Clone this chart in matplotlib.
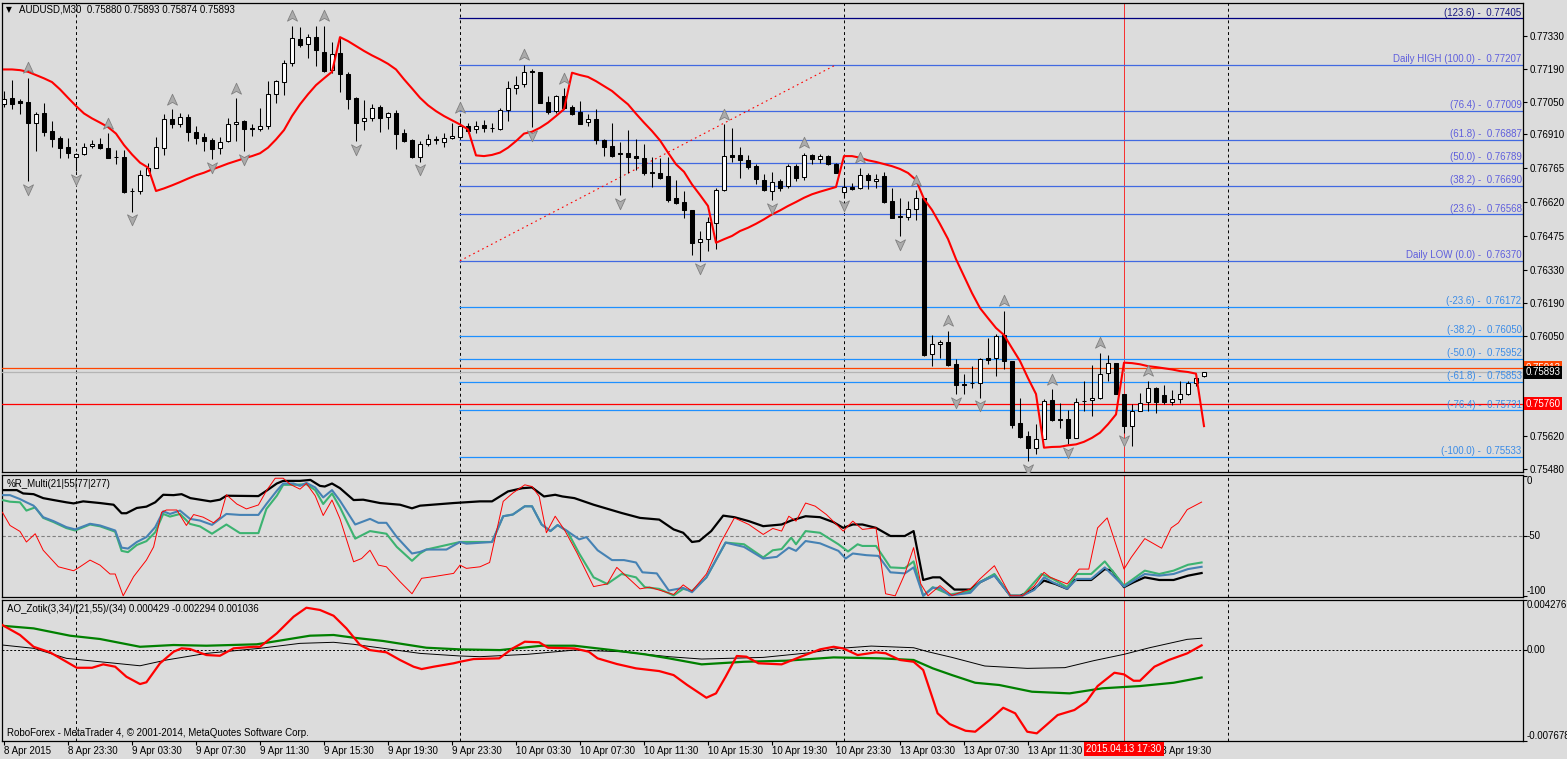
import numpy as np
import matplotlib
matplotlib.use("Agg")
import matplotlib.pyplot as plt
from matplotlib.path import Path
from matplotlib import transforms

plt.rcParams['font.family'] = ['Liberation Sans', 'DejaVu Sans']

# ---------------- data (AUDUSD M30, bar 0 = 9 Apr 00:00) ----------------
bars = list(range(-9, 142))

opens = [0.77038, 0.77063, 0.77052, 0.77048, 0.76960, 0.76999, 0.76924, 0.76896, 0.76856,
         0.76813, 0.76825, 0.76860, 0.76870, 0.76853, 0.76813, 0.76813, 0.76668, 0.76668, 0.76736,
         0.76767, 0.76850, 0.76977, 0.76952, 0.76984, 0.76920, 0.76900, 0.76886, 0.76850, 0.76881,
         0.76952, 0.76967, 0.76937, 0.76931, 0.76945, 0.77081, 0.77132, 0.77213, 0.77315, 0.77294,
         0.77327, 0.77261, 0.77183, 0.77256, 0.77166, 0.77066, 0.76967, 0.76978, 0.77026, 0.76984,
         0.77001, 0.76914, 0.76886, 0.76814, 0.76867, 0.76891, 0.76878, 0.76894, 0.76898, 0.76944,
         0.76931, 0.76950, 0.76938, 0.76934, 0.77012, 0.77106, 0.77123, 0.77179, 0.77176, 0.77048,
         0.77009, 0.77072, 0.77026, 0.77005, 0.76962, 0.76975, 0.76886, 0.76860, 0.76829, 0.76829,
         0.76817, 0.76807, 0.76748, 0.76745, 0.76732, 0.76637, 0.76621, 0.76587, 0.76450, 0.76464,
         0.76533, 0.76672, 0.76820, 0.76820, 0.76799, 0.76775, 0.76713, 0.76668, 0.76709, 0.76689,
         0.76775, 0.76728, 0.76822, 0.76803, 0.76817, 0.76782, 0.76664, 0.76685, 0.76679, 0.76736,
         0.76711, 0.76730, 0.76625, 0.76560, 0.76558, 0.76590, 0.76637, 0.75973, 0.76013, 0.76023,
         0.75929, 0.75845, 0.75848, 0.75847, 0.75956, 0.75953, 0.76053, 0.75942, 0.75676, 0.75620,
         0.75569, 0.75607, 0.75774, 0.75693, 0.75693, 0.75612, 0.75771, 0.75774, 0.75783, 0.75889,
         0.75935, 0.75800, 0.75664, 0.75728, 0.75768, 0.75825, 0.75797, 0.75767, 0.75778, 0.75800,
         0.75849, 0.75880]
highs = [0.77095, 0.77142, 0.77059, 0.77152, 0.77005, 0.77042, 0.76967, 0.76903, 0.76893,
         0.76832, 0.76874, 0.76884, 0.76896, 0.76914, 0.76842, 0.76842, 0.76682, 0.76756, 0.76786,
         0.76898, 0.76995, 0.77017, 0.77002, 0.76995, 0.76944, 0.76917, 0.76896, 0.76898, 0.76981,
         0.77063, 0.76970, 0.76955, 0.77021, 0.77137, 0.77142, 0.77226, 0.77372, 0.77368, 0.77337,
         0.77372, 0.77372, 0.77305, 0.77322, 0.77176, 0.77069, 0.77056, 0.77038, 0.77034, 0.77005,
         0.77015, 0.76934, 0.76888, 0.76881, 0.76913, 0.76903, 0.76914, 0.76957, 0.76981, 0.76960,
         0.76967, 0.76970, 0.76957, 0.77024, 0.77137, 0.77159, 0.77207, 0.77187, 0.77177, 0.77073,
         0.77076, 0.77106, 0.77035, 0.77052, 0.76995, 0.77017, 0.76888, 0.76957, 0.76877, 0.76927,
         0.76888, 0.76870, 0.76813, 0.76810, 0.76813, 0.76713, 0.76668, 0.76587, 0.76497, 0.76557,
         0.76682, 0.76952, 0.76938, 0.76857, 0.76822, 0.76782, 0.76742, 0.76750, 0.76718, 0.76782,
         0.76782, 0.76832, 0.76825, 0.76825, 0.76822, 0.76786, 0.76725, 0.76703, 0.76767, 0.76743,
         0.76739, 0.76750, 0.76682, 0.76639, 0.76625, 0.76671, 0.76638, 0.76053, 0.76030, 0.76070,
         0.75949, 0.75885, 0.75920, 0.75956, 0.76041, 0.76056, 0.76155, 0.75942, 0.75783, 0.75643,
         0.75672, 0.75778, 0.75821, 0.75764, 0.75731, 0.75785, 0.75856, 0.75923, 0.75977, 0.75967,
         0.75935, 0.75801, 0.75757, 0.75806, 0.75856, 0.75831, 0.75839, 0.75817, 0.75856, 0.75856,
         0.75885, 0.75893]
lows = [0.77026, 0.77017, 0.76995, 0.76711, 0.76839, 0.76903, 0.76857, 0.76807, 0.76810,
        0.76753, 0.76822, 0.76853, 0.76849, 0.76810, 0.76785, 0.76661, 0.76580, 0.76654, 0.76732,
        0.76767, 0.76822, 0.76938, 0.76941, 0.76881, 0.76867, 0.76839, 0.76803, 0.76825, 0.76877,
        0.76881, 0.76839, 0.76903, 0.76924, 0.76931, 0.77045, 0.77076, 0.77202, 0.77283, 0.77234,
        0.77202, 0.77176, 0.77173, 0.77092, 0.77017, 0.76881, 0.76928, 0.76967, 0.76921, 0.76931,
        0.76846, 0.76878, 0.76807, 0.76793, 0.76859, 0.76867, 0.76857, 0.76891, 0.76896, 0.76917,
        0.76917, 0.76921, 0.76920, 0.76927, 0.76967, 0.77081, 0.77112, 0.76941, 0.77042, 0.76995,
        0.77002, 0.77017, 0.76992, 0.76952, 0.76945, 0.76870, 0.76817, 0.76814, 0.76649, 0.76746,
        0.76756, 0.76736, 0.76686, 0.76718, 0.76621, 0.76611, 0.76554, 0.76395, 0.76370, 0.76412,
        0.76419, 0.76668, 0.76793, 0.76725, 0.76760, 0.76699, 0.76668, 0.76629, 0.76668, 0.76682,
        0.76711, 0.76715, 0.76782, 0.76786, 0.76777, 0.76743, 0.76639, 0.76671, 0.76675, 0.76675,
        0.76682, 0.76617, 0.76552, 0.76476, 0.76543, 0.76543, 0.75963, 0.75920, 0.75956, 0.75919,
        0.75800, 0.75800, 0.75828, 0.75785, 0.75928, 0.75878, 0.75906, 0.75657, 0.75614, 0.75515,
        0.75543, 0.75607, 0.75686, 0.75657, 0.75586, 0.75612, 0.75728, 0.75707, 0.75778, 0.75856,
        0.75800, 0.75636, 0.75579, 0.75728, 0.75728, 0.75721, 0.75759, 0.75754, 0.75764, 0.75797,
        0.75835, 0.75874]
closes = [0.77062, 0.77041, 0.77045, 0.76960, 0.76998, 0.76921, 0.76888, 0.76853, 0.76829,
          0.76826, 0.76856, 0.76870, 0.76850, 0.76810, 0.76812, 0.76664, 0.76667, 0.76736, 0.76767,
          0.76856, 0.76974, 0.76952, 0.76984, 0.76920, 0.76896, 0.76881, 0.76849, 0.76877, 0.76952,
          0.76961, 0.76934, 0.76934, 0.76945, 0.77081, 0.77137, 0.77214, 0.77320, 0.77290, 0.77325,
          0.77268, 0.77180, 0.77254, 0.77166, 0.77062, 0.76960, 0.76981, 0.77024, 0.76981, 0.76999,
          0.76913, 0.76881, 0.76813, 0.76870, 0.76888, 0.76887, 0.76893, 0.76904, 0.76944, 0.76924,
          0.76944, 0.76935, 0.76937, 0.77012, 0.77106, 0.77120, 0.77176, 0.77176, 0.77045, 0.77007,
          0.77072, 0.77024, 0.76998, 0.76955, 0.76975, 0.76884, 0.76857, 0.76817, 0.76826, 0.76813,
          0.76807, 0.76743, 0.76745, 0.76725, 0.76629, 0.76615, 0.76587, 0.76444, 0.76464, 0.76536,
          0.76671, 0.76816, 0.76814, 0.76799, 0.76772, 0.76718, 0.76671, 0.76708, 0.76682, 0.76775,
          0.76725, 0.76820, 0.76803, 0.76817, 0.76782, 0.76746, 0.76685, 0.76675, 0.76736, 0.76713,
          0.76718, 0.76621, 0.76554, 0.76557, 0.76590, 0.76637, 0.75967, 0.76013, 0.76022, 0.75925,
          0.75838, 0.75838, 0.75846, 0.75949, 0.75947, 0.76049, 0.75942, 0.75669, 0.75619, 0.75569,
          0.75607, 0.75771, 0.75689, 0.75691, 0.75612, 0.75768, 0.75770, 0.75783, 0.75888, 0.75935,
          0.75800, 0.75664, 0.75728, 0.75764, 0.75825, 0.75768, 0.75768, 0.75778, 0.75800, 0.75849,
          0.75871, 0.75893]

# red trailing line of the price panel
stop_line = [0.77187, 0.77187, 0.77184, 0.77177, 0.77163, 0.77149, 0.77133, 0.77102, 0.77066,
             0.77031, 0.76999, 0.76978, 0.76960, 0.76941, 0.76913, 0.76864, 0.76824, 0.76789, 0.76768,
             0.76668, 0.76679, 0.76692, 0.76706, 0.76721, 0.76735, 0.76746, 0.76760, 0.76772, 0.76785,
             0.76796, 0.76807, 0.76817, 0.76829, 0.76853, 0.76888, 0.76928, 0.76988, 0.77038, 0.77081,
             0.77120, 0.77149, 0.77177, 0.77325, 0.77308, 0.77287, 0.77266, 0.77247, 0.77230, 0.77211,
             0.77187, 0.77145, 0.77106, 0.77066, 0.77034, 0.77009, 0.76988, 0.76970, 0.76952, 0.76931,
             0.76820, 0.76817, 0.76822, 0.76832, 0.76853, 0.76881, 0.76913, 0.76921, 0.76938, 0.76960,
             0.76988, 0.77017, 0.77173, 0.77163, 0.77155, 0.77137, 0.77116, 0.77095, 0.77066, 0.77038,
             0.76998, 0.76960, 0.76924, 0.76884, 0.76832, 0.76782, 0.76750, 0.76696, 0.76651, 0.76604,
             0.76447, 0.76462, 0.76476, 0.76497, 0.76511, 0.76528, 0.76547, 0.76568, 0.76585, 0.76604,
             0.76621, 0.76639, 0.76654, 0.76665, 0.76675, 0.76685, 0.76817, 0.76817, 0.76810, 0.76799,
             0.76792, 0.76783, 0.76774, 0.76762, 0.76745, 0.76715, 0.76634, 0.76587, 0.76527, 0.76463,
             0.76377, 0.76305, 0.76232, 0.76168, 0.76125, 0.76083, 0.76053, 0.75997, 0.75942, 0.75869,
             0.75801, 0.75572, 0.75575, 0.75576, 0.75582, 0.75586, 0.75597, 0.75614, 0.75636, 0.75672,
             0.75714, 0.75935, 0.75933, 0.75928, 0.75920, 0.75916, 0.75911, 0.75906, 0.75899, 0.75895,
             0.75888, 0.75664]

fractal_up = [-6, 4, 12, 20, 27, 31, 48, 56, 61, 81, 91, 98, 105, 109, 116, 122, 128, 134]
fractal_dn = [-6, 0, 7, 17, 21, 35, 43, 57, 68, 78, 87, 96, 103, 110, 113, 119, 124, 131]

fib_levels = [123.6, 100.0, 76.4, 61.8, 50.0, 38.2, 23.6, 0.0,
              -23.6, -38.2, -50.0, -61.8, -76.4, -100.0]
fib_prices = [0.77405, 0.77207, 0.77009, 0.76887, 0.76789, 0.76690, 0.76568, 0.76370,
              0.76172, 0.76050, 0.75952, 0.75853, 0.75731, 0.75533]
fib_names = {100.0: 'Daily HIGH ', 0.0: 'Daily LOW '}
fib_start = 47.9
trend_bars = [48, 95]
trend_prices = [0.76370, 0.77207]

price_ticks = [0.77330, 0.77190, 0.77050, 0.76910, 0.76765, 0.76620,
               0.76475, 0.76330, 0.76190, 0.76050, 0.75620, 0.75480]
line_orange = 0.75913
line_bid = 0.75893
line_red = 0.75760

# %R_Multi(21|55|77|277) -- vertices of each line
wr277_x = [-9.2, -7.4, -6.6, -5.3, -4.1, -2.8, -1.2, -0.3, 0.9, 3, 4.7, 5.7, 6.3, 7.6, 8.8, 9.9,
           10.9, 12.2, 13.2, 14.3, 16.8, 18, 18.8, 22.8, 23.8, 25.1, 25.9, 28, 29.3, 30.5, 31.1,
           32, 33, 34.7, 35.9, 38, 40.5, 42, 43, 47.2, 50.5, 52, 54, 55.8, 57, 58.5, 59.9, 60.8,
           62.3, 64.7, 68.2, 70.5, 72.9, 74.7, 75.9, 77, 77.9, 79.4, 80.9, 82.3, 84.1, 85.9, 88.2,
           89.4, 91.2, 93, 94.7, 95.9, 97.1, 98.3, 100, 101.8, 103.6, 104.7, 105.9, 107.1, 108,
           109.8, 111.8, 113, 114.8, 116.8, 118, 119.5, 121, 122.4, 123.9, 124.8, 126.9, 128.6,
           129.5, 131, 132.2, 133.6, 135.4, 137.2, 139, 140.7]
wr277_y = [-11.8, -11.8, -14.6, -15.2, -18.5, -20.1, -22, -22.9, -21.2, -22.6, -24, -31.1, -31.1,
           -26.7, -25.6, -22, -15.7, -16, -15.2, -18.5, -21.2, -19.8, -16.5, -16.8, -12.4, -6.3,
           -4.1, -4.1, -3.3, -8.3, -8.8, -6.3, -10.2, -20.1, -19.8, -22.6, -24, -27, -24.8, -22.6,
           -21.2, -21.2, -12.9, -10.2, -9.6, -17.1, -15.7, -17.1, -18.5, -24, -30.9, -35, -36.4,
           -44.6, -47.4, -55.1, -54.3, -46, -33.1, -34.4, -37.7, -41.9, -40.5, -37.2, -33.6, -34.4,
           -38.6, -43.3, -40.5, -40.5, -43.3, -50.1, -50.1, -46, -86.8, -84.6, -84.6, -94.8,
           -94.8, -88.7, -82.6, -100, -100, -95.6, -87.3, -90.1, -94.2, -86.8, -86.8, -77.7,
           -79.1, -92.8, -88.7, -84.6, -86.8, -86.8, -83.2, -81]

wr77_x = [-9.2, -8.25, -7, -6.2, -5.3, -4.1, -2.8, -1.2, -0.1, 1.75, 3, 4.9, 5.7, 6.5, 7.6, 8.8,
          9.9, 10.9, 11.75, 13, 14.25, 15.5, 17, 18.8, 20.5, 22.8, 23.8, 25.1, 25.9, 27.2, 28,
          28.8, 29.9, 30.9, 32, 33, 34.9, 36.75, 37.8, 38.8, 40.1, 42, 43, 43.8, 46.3, 48, 48.8,
          52, 53.4, 54.6, 56.1, 57, 58.2, 59.3, 60.2, 61.4, 62.9, 63.8, 65.2, 67, 68.5, 70, 70.8,
          72.6, 74.1, 75.9, 77, 78.8, 81.2, 83.5, 85.9, 87.6, 89.1, 90, 91.2, 93, 95.3, 96.2,
          97.1, 98.8, 100.3, 101.8, 103.6, 104.7, 105.9, 107.1, 108, 109.2, 111.8, 113, 114.8,
          116.8, 118.3, 119.8, 121, 122.1, 123.9, 125.1, 126.9, 128.6, 131, 133.6, 135.4, 137.2,
          139, 140.7]
wr77_y = [-16, -16, -19.3, -22, -24.8, -34.4, -37.7, -42.7, -44.6, -39.9, -41.3, -45.5, -59.8,
          -60.6, -55.1, -51, -42.7, -29.5, -31.7, -28.9, -35.8, -37.2, -40.8, -31.7, -32.5, -32.5,
          -23.4, -12.4, -6.3, -6.3, -8.3, -5.8, -9.6, -17.9, -11.8, -20.7, -40.5, -35.8, -39.1,
          -39.1, -51, -64.7, -63.4, -61.4, -61.4, -55.1, -56.5, -55.1, -33.6, -32.2, -25.3, -25.3,
          -40.5, -46, -41, -46, -52.9, -51, -62, -70.2, -70.2, -72.2, -80.4, -81.3, -95.6, -93.4,
          -97, -84.6, -55.6, -59.2, -68.9, -67.5, -59.8, -62.5, -54.3, -56.2, -62.5, -68.9, -64.7,
          -66.1, -66.7, -80.4, -81.3, -76.3, -100, -93.4, -93.4, -99.7, -97.5, -88.7, -83.2, -100,
          -100, -95, -84.6, -88.7, -94.2, -85.9, -85.9, -76.3, -92.3, -81.8, -83.2, -81.8, -77.7,
          -75.8]

wr55_x = [-9.2, -8.25, -7, -6.2, -5.1, -4.1, -2.8, -1.2, -0.1, 1.75, 3, 4.9, 5.7, 6.5, 7.6, 8.8,
          9.9, 10.9, 11.75, 13, 14.25, 15.5, 17, 18.8, 20.5, 22.8, 23.8, 25.1, 25.9, 27.2, 28.8,
          29.9, 30.9, 32, 33, 34.9, 36.75, 38.8, 40.1, 42, 43, 43.8, 48, 52, 53.4, 54.6, 56.1, 57,
          58.2, 59.3, 60.2, 61.4, 62.9, 64.7, 66.4, 68.2, 70, 71.1, 72.9, 74.7, 75.9, 77, 78.8,
          81.2, 83.5, 85.9, 87.1, 88.2, 89.4, 90, 91.2, 93, 95.3, 96.5, 97.7, 98.3, 100, 101.8,
          103.6, 104.7, 105.9, 107.1, 109.2, 111.8, 113, 114.8, 116.8, 118.3, 120.7, 122.1, 123.9,
          125.1, 126.9, 128.6, 131, 133.6, 135.4, 137.2, 139, 140.7]
wr55_y = [-20.1, -21.5, -22, -28.9, -26.2, -35, -38.5, -43.5, -45.5, -40.5, -42, -46.5, -62.5,
          -63.6, -57.6, -54.4, -47, -31.7, -33.9, -31.7, -40, -42.1, -48.2, -40.5, -47.7, -47.7,
          -27.5, -16.5, -7.4, -7.4, -6.9, -11.8, -23.4, -14.6, -26.2, -52.3, -46, -48.2, -59.2,
          -70.8, -64.7, -61.4, -55.1, -55.1, -33.6, -32.2, -25.3, -25.3, -40.5, -46, -41, -46,
          -64.7, -84.6, -90.1, -81.8, -84.6, -92.8, -94.2, -99.7, -94.2, -96, -84.6, -55.6, -57,
          -68, -62, -61, -51.5, -57, -46, -47.4, -57, -63, -57, -58.4, -58.4, -76.3, -76.9, -71.3,
          -100, -92.8, -99, -96.1, -88.7, -81.8, -100, -100, -81.8, -85.9, -92.8, -81.8, -81.8,
          -71.3, -91.5, -79, -81.8, -79, -74.1, -72.2]

wr21_x = [-9.2, -8.25, -7, -6.2, -5.1, -4.1, -2.2, -0.3, 0.5, 1.75, 3, 4.25, 4.9, 5.9, 7.2, 8.8,
          9.7, 10.7, 11.3, 12.6, 13.8, 14.7, 15.9, 17.2, 18, 18.8, 20.1, 21.3, 22.8, 23.8, 24.9,
          25.9, 26.75, 28, 28.8, 29.9, 30.9, 32, 33, 34.7, 35.7, 36.75, 37.8, 38.8, 40.5, 42,
          43.2, 44.7, 47.2, 48, 48.8, 50.5, 51.7, 53.4, 54.6, 56.1, 57, 57.9, 58.8, 59.9, 61.1,
          62.6, 64.7, 66.4, 67.6, 70.5, 71.7, 74.7, 75.9, 77, 78.8, 80.6, 82.3, 84.1, 85.9, 87.1,
          88.2, 89.1, 90, 91.2, 92.4, 93.8, 95.9, 97.1, 98.3, 100, 101.2, 102.4, 103.6, 104.7,
          105.6, 106.5, 108, 109.5, 111.8, 113, 114.8, 116.8, 118.3, 119.8, 121, 121.8, 123.9,
          125.4, 126.6, 127.7, 128.9, 131, 131.9, 133.6, 135.7, 136.9, 137.8, 138.9, 140.7]
wr21_y = [-30.3, -41.3, -46.3, -55.1, -48.2, -62, -75.8, -79.1, -75.8, -70.2, -74.4, -81.8, -81.8,
          -100, -84, -70.2, -59.2, -30.3, -28.4, -28.4, -41.3, -32.2, -34.4, -39.1, -34.4, -15.7,
          -23.4, -27.5, -24.2, -12.4, -1.9, -1.9, -6.9, -11, -6.3, -16.5, -33, -20.1, -35.8, -71.6,
          -68.9, -62, -74.4, -75.8, -88.2, -98.3, -85.4, -84, -81.3, -74.4, -77.1, -75.8, -72.2,
          -21.2, -14.3, -7.4, -8.8, -17.1, -47.4, -33.6, -45.5, -63.9, -92.3, -90.1, -76.3, -94.2,
          -92.8, -98.9, -90.9, -96.1, -81.8, -55.6, -35, -40.5, -48.8, -43.8, -46, -33.6, -37.7,
          -22.6, -25.2, -32.2, -46, -37.7, -44.6, -43.3, -98.3, -100, -81.8, -59.8, -90.1, -100,
          -91.5, -99.7, -94.2, -85.9, -74.9, -100, -100, -91.5, -80.4, -84.6, -90.1, -77.7, -77.7,
          -43.3, -35, -77.7, -68, -52.3, -60.3, -43.3, -39.1, -28.1, -21.8]

# AO_Zotik(3,34)/(21,55)/(34) -- vertices of each line
ao_red_x = [-9.2, -7, -5.3, -3.25, -1.2, 0.1, 2, 3.4, 4.9, 6.3, 8, 8.8, 10.5, 12.2, 13.2, 14.25,
            16.3, 18, 19.7, 22.2, 23, 25.1, 27.2, 28.8, 30.5, 32.2, 33.8, 35.5, 36.75, 38.8, 40.5,
            42.2, 43.2, 44.7, 47.2, 48, 49.7, 52.9, 54.6, 56.1, 57.9, 59, 62.3, 64.1, 65.2, 67.6,
            70, 72.9, 74.7, 76.4, 78.8, 80, 81.2, 82.6, 83.8, 85.3, 88.2, 90.6, 93, 94.7, 95.9,
            97.7, 100, 101.2, 103, 104.7, 105.9, 107.7, 109.2, 111.2, 112.4, 114.2, 115.9, 117.4,
            118.9, 120.1, 121.3, 122.7, 124.8, 126.3, 127.7, 129.8, 131, 132.2, 133, 134.8, 136.6,
            138.9, 140.7]
ao_red_y = [0.00215, 0.00131, 0.00031, -0.00016, -0.00096, -0.00147, -0.00147, -0.00118, -0.00138,
            -0.00223, -0.00285, -0.0027, -0.00109, -0.00011, 0.00018, 0.00012, -0.00039, -0.00045,
            0.00018, 0.00031, 0.00031, 0.00145, 0.00286, 0.00362, 0.00343, 0.00294, 0.00187,
            0.00046, 0.00003, -0.00016, -0.00081, -0.00138, -0.00158, -0.00138, -0.00109, -0.00096,
            -0.00073, -0.00067, 0.00018, 0.00074, 0.00069, 0.00023, 0.00017, -0.00011, -0.00067,
            -0.00115, -0.00152, -0.00175, -0.00209, -0.00293, -0.00401, -0.00364, -0.00223,
            -0.00047, -0.00053, -0.00109, -0.00118, -0.00053, 0.00009, 0.00031, 0.00017, -0.00039,
            -0.00016, -0.00024, -0.00081, -0.00096, -0.00166, -0.00533, -0.00624, -0.00681,
            -0.00689, -0.0059, -0.00486, -0.00533, -0.00689, -0.00703, -0.00632, -0.00548,
            -0.00505, -0.00435, -0.00302, -0.00189, -0.00203, -0.00257, -0.00257, -0.00138,
            -0.00081, -0.00025, 0.000429]

ao_green_x = [-9.2, -5.3, -0.75, 3, 8, 12.2, 16.3, 22.6, 25.9, 29.25, 32.2, 34.7, 38.4, 43.8, 48,
              53, 58.2, 62.3, 67, 71.1, 74.1, 78.2, 83.5, 88.8, 94.7, 100.6, 104.7, 107.1, 109.5,
              112.4, 115.4, 119.5, 124.2, 128.3, 133, 137.2, 140.7]
ao_green_y = [0.00209, 0.00187, 0.00125, 0.00097, 0.00031, 0.00046, 0.0004, 0.00052, 0.00088,
              0.00125, 0.00131, 0.00108, 0.0008, 0.00023, 0.00009, 0.00003, 0.0004, 0.0004, 0.00003,
              -0.00033, -0.00067, -0.00118, -0.00096, -0.00087, -0.00059, -0.00067, -0.00081,
              -0.00152, -0.00209, -0.00274, -0.00293, -0.0035, -0.00364, -0.00321, -0.00302,
              -0.00274, -0.002294]

ao_black_x = [-9.2, -5.3, -1.2, 3, 8, 11.3, 16.3, 23, 28, 32.2, 34.7, 38.4, 43, 48, 50.5, 56.4,
              62.3, 68.2, 74.1, 78.2, 85.9, 91.8, 95.3, 99.4, 104.7, 106.5, 109.5, 113.6, 118.9,
              123.6, 127.2, 131, 134.2, 138.9, 140.7]
ao_black_y = [0.00046, 0.00018, -0.00067, -0.00096, -0.0013, -0.00081, -0.00025, 0.00018, 0.0006,
              0.00069, 0.00052, 0.00018, -0.00025, -0.00047, -0.00053, -0.00033, 0.00003, -0.00011,
              -0.00053, -0.00073, -0.00059, -0.00019, 0.00017, 0.00037, 0.00023, -0.00011, -0.00059,
              -0.00132, -0.00152, -0.00146, -0.00087, -0.00033, 0.00023, 0.00094, 0.001036]

day_starts = [0, 48, 96, 144]
cross_bar = 131
time_bars = [-9, -1, 7, 15, 23, 31, 39, 47, 55, 63, 71, 79, 87, 95, 103, 111, 119, 127, 135]
time_labels = ['8 Apr 2015', '8 Apr 23:30', '9 Apr 03:30', '9 Apr 07:30', '9 Apr 11:30',
               '9 Apr 15:30', '9 Apr 19:30', '9 Apr 23:30', '10 Apr 03:30', '10 Apr 07:30',
               '10 Apr 11:30', '10 Apr 15:30', '10 Apr 19:30', '10 Apr 23:30', '13 Apr 03:30',
               '13 Apr 07:30', '13 Apr 11:30', '13 Apr 15:30', '13 Apr 19:30']

# ---------------- figure ----------------
BG = '#DCDCDC'
W, H = 1567, 759
fig = plt.figure(figsize=(W / 100, H / 100), dpi=100, facecolor=BG)
FS = 7


def px_axes(x0, y0, x1, y1):
    return fig.add_axes([x0 / W, 1 - y1 / H, (x1 - x0) / W, (y1 - y0) / H])


ax = px_axes(2, 3, 1523, 472)
ax_wr = px_axes(2, 475, 1523, 597)
ax_ao = px_axes(2, 600, 1523, 741)

X_LEFT, X_RIGHT = -9.25, 180.875
for a in (ax, ax_wr, ax_ao):
    a.set_facecolor(BG)
    a.set_xlim(X_LEFT, X_RIGHT)
    for s in a.spines.values():
        s.set_color('black')
        s.set_linewidth(0.9)
    for d in day_starts:
        a.axvline(d, color='black', lw=0.7, ls=(0, (3, 3)), zorder=1)
    a.axvline(cross_bar, color='red', lw=0.55, zorder=2)
    a.tick_params(axis='x', bottom=False, labelbottom=False)
    a.yaxis.tick_right()
    a.tick_params(axis='y', length=3, width=0.8, pad=2, labelsize=FS, colors='black')

# ---- price panel ----
ax.set_ylim(0.754681, 0.774707)
x = np.array(bars)
o, hi, lo, c = map(np.array, (opens, highs, lows, closes))
bull = c >= o
ax.vlines(x, lo, hi, color='black', lw=0.75, zorder=4)
body_lo = np.minimum(o, c)
body_h = np.maximum(np.abs(c - o), 0.000015)
ax.bar(x[bull], body_h[bull], bottom=body_lo[bull], width=0.6, color='white',
       edgecolor='black', linewidth=0.75, zorder=5)
ax.bar(x[~bull], body_h[~bull], bottom=body_lo[~bull], width=0.6, color='black',
       edgecolor='black', linewidth=0.75, zorder=5)

ax.plot(x, stop_line, color='#FF0000', lw=1.5, zorder=6)

# fibonacci levels
for lev, pr in zip(fib_levels, fib_prices):
    if lev > 110:
        lc, tc = '#000080', '#1A1A80'
    elif lev >= 0:
        lc, tc = '#4169E1', '#5F5FDC'
    else:
        lc, tc = '#1E90FF', '#3C8CE6'
    ax.hlines(pr, fib_start, X_RIGHT, color=lc, lw=0.9, zorder=2)
    label = '%s(%.1f) -  %.5f' % (fib_names.get(lev, ''), lev, pr)
    ax.text(180.7, pr, label, color=tc, fontsize=FS, ha='right', va='bottom',
            transform=transforms.offset_copy(ax.transData, fig=fig, y=0.6, units='points'),
            zorder=7)
ax.plot(trend_bars, trend_prices, color='red', lw=0.8, ls=(0, (1.5, 3)), zorder=3)

ax.axhline(line_orange, color='#FF4500', lw=0.9, zorder=3)
ax.axhline(line_bid, color='#B4B4B4', lw=0.9, zorder=3)
ax.axhline(line_red, color='#FF0000', lw=0.9, zorder=3)

# fractal arrows
up_arrow = Path([(0, 1), (0.8, -0.75), (0, -0.3), (-0.8, -0.75), (0, 1)],
                [Path.MOVETO, Path.LINETO, Path.LINETO, Path.LINETO, Path.CLOSEPOLY])
dn_arrow = Path([(0, -1), (0.8, 0.75), (0, 0.3), (-0.8, 0.75), (0, -1)],
                [Path.MOVETO, Path.LINETO, Path.LINETO, Path.LINETO, Path.CLOSEPOLY])
up_tr = transforms.offset_copy(ax.transData, fig=fig, y=7, units='points')
dn_tr = transforms.offset_copy(ax.transData, fig=fig, y=-5.5, units='points')
ax.plot(fractal_up, [highs[b + 9] for b in fractal_up], ls='none', marker=up_arrow, ms=9,
        mfc='#ABABAB', mec='#808080', mew=0.6, transform=up_tr, zorder=8)
ax.plot(fractal_dn, [lows[b + 9] for b in fractal_dn], ls='none', marker=dn_arrow, ms=9,
        mfc='#ABABAB', mec='#808080', mew=0.6, transform=dn_tr, zorder=8)

ax.set_yticks(price_ticks)
ax.set_yticklabels(['%.5f' % t for t in price_ticks])

blend = transforms.blended_transform_factory(ax.transAxes, ax.transData)
for pr, fc in ((line_orange, '#FF4500'), (line_bid, 'black'), (line_red, '#FF0000')):
    ax.text(1.0016, pr, '%.5f' % pr, transform=blend, fontsize=FS, color='white', ha='left',
            va='center', clip_on=False, zorder=20,
            bbox=dict(boxstyle='square,pad=0.18', fc=fc, ec='none'))

# ---- %R panel ----
ax_wr.set_ylim(-101, 0.8)
ax_wr.axhline(-50, color='#808080', lw=0.8, ls=(0, (3, 2)), zorder=1)
ax_wr.plot(wr277_x, wr277_y, color='black', lw=1.6, zorder=3)
ax_wr.plot(wr77_x, wr77_y, color='#4682B4', lw=1.5, zorder=4)
ax_wr.plot(wr55_x, wr55_y, color='#3CB371', lw=1.5, zorder=3.5)
ax_wr.plot(wr21_x, wr21_y, color='#FF0000', lw=0.7, zorder=5)
ax_wr.set_yticks([0, -50, -100])
ax_wr.set_yticklabels(['', '', ''])
bw = transforms.blended_transform_factory(ax_wr.transAxes, ax_wr.transData)
ax_wr.text(1.0026, 0, '0', transform=bw, fontsize=FS, va='top', ha='left', clip_on=False)
ax_wr.text(1.0026, -50, '-50', transform=bw, fontsize=FS, va='center', ha='left', clip_on=False)
ax_wr.text(1.0026, -100, '-100', transform=bw, fontsize=FS, va='bottom', ha='left', clip_on=False)

# ---- AO panel ----
ax_ao.set_ylim(-0.007678, 0.004276)
ax_ao.axhline(0, color='black', lw=0.7, ls=(0, (2, 2)), zorder=1)
ax_ao.plot(ao_black_x, ao_black_y, color='black', lw=0.7, zorder=3)
ax_ao.plot(ao_green_x, ao_green_y, color='#008000', lw=1.6, zorder=4)
ax_ao.plot(ao_red_x, ao_red_y, color='#FF0000', lw=1.6, zorder=5)
ax_ao.set_yticks([0.004276, 0, -0.007678])
ax_ao.set_yticklabels(['', '', ''])
ba = transforms.blended_transform_factory(ax_ao.transAxes, ax_ao.transData)
ax_ao.text(1.0026, 0.004276, '0.004276', transform=ba, fontsize=FS, va='top', ha='left', clip_on=False)
ax_ao.text(1.0026, 0, '0.00', transform=ba, fontsize=FS, va='center', ha='left', clip_on=False)
ax_ao.text(1.0026, -0.007678, '-0.007678', transform=ba, fontsize=FS, va='bottom', ha='left',
           clip_on=False)

ax_ao.set_xticks(time_bars)
ax_ao.set_xticklabels(time_labels, ha='left')
ax_ao.tick_params(axis='x', bottom=True, labelbottom=True, length=3, width=0.8, pad=0.3,
                  labelsize=FS, direction='out')
bt = transforms.blended_transform_factory(ax_ao.transData, ax_ao.transAxes)
ax_ao.text(cross_bar, -0.02, '2015.04.13 17:30', transform=bt, fontsize=FS, color='white',
           ha='center', va='top', clip_on=False, zorder=30,
           bbox=dict(boxstyle='square,pad=0.2', fc='#FF0000', ec='none'))


# ---- captions ----
def ftext(xp, yp, s, **kw):
    kw.setdefault('fontsize', FS)
    fig.text(xp / W, 1 - yp / H, s, va='center', ha='left', **kw)


ftext(6, 10, '\u25BC', family=['DejaVu Sans'], fontsize=5.5)
ftext(19, 10, 'AUDUSD,M30  0.75880 0.75893 0.75874 0.75893')
ftext(7, 484, '%R_Multi(21|55|77|277)')
ftext(7, 609, 'AO_Zotik(3,34)/(21,55)/(34) 0.000429 -0.002294 0.001036')
ftext(7, 733, 'RoboForex - MetaTrader 4, \u00A9 2001-2014, MetaQuotes Software Corp.')

fig.savefig('out.png', dpi=100, facecolor=BG)
